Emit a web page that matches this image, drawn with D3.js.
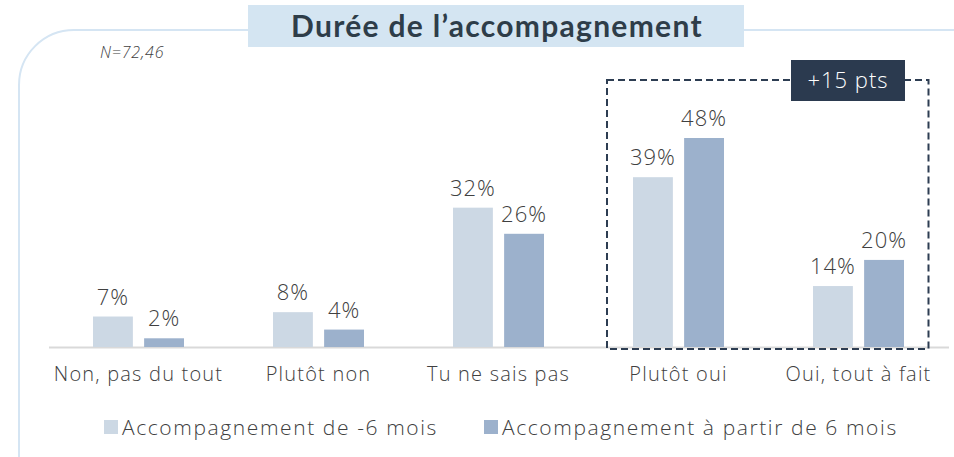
<!DOCTYPE html>
<html>
<head>
<meta charset="utf-8">
<script src="https://cdn.jsdelivr.net/npm/d3@7/dist/d3.min.js"></script>
<style>
  html, body { margin: 0; padding: 0; background: #fff; }
  svg { display: block; font-family: "Open Sans", Lato, sans-serif; font-weight: 300; }
</style>
</head>
<body>
<svg id="chart" width="954" height="457"></svg>
<script>
// Answer categories and shares (%) for each group
const categories = ["Non, pas du tout", "Plutôt non", "Tu ne sais pas", "Plutôt oui", "Oui, tout à fait"];
const seriesNames = ["Accompagnement de -6 mois", "Accompagnement à partir de 6 mois"];
const moinsSixMois = [7, 8, 32, 39, 14];
const plusSixMois = [2, 4, 26, 48, 20];
const seriesColors = ["#ccd8e4", "#9cb1cc"];
const titleText = "Durée de l’accompagnement";
const sampleText = "N=72,46";
const highlightText = "+15 pts";
const highlightCats = ["Plutôt oui", "Oui, tout à fait"];

const svg = d3.select("#chart");
const textColor = "#404040";

// Rounded frame
svg.append("rect")
  .attr("x", 19).attr("y", 30)
  .attr("width", 1000).attr("height", 500)
  .attr("rx", 55).attr("ry", 55)
  .attr("fill", "none")
  .attr("stroke", "#d5e5f3")
  .attr("stroke-width", 2);

// Title banner
svg.append("rect")
  .attr("x", 248).attr("y", 5)
  .attr("width", 496).attr("height", 42)
  .attr("fill", "#d4e5f2");
svg.append("text")
  .attr("x", 497).attr("y", 37)
  .attr("text-anchor", "middle")
  .attr("font-family", "Lato, sans-serif")
  .attr("font-size", 30).attr("font-weight", 700)
  .attr("letter-spacing", 1.3)
  .attr("fill", "#2e3d49")
  .text(titleText);

svg.append("text")
  .attr("x", 100).attr("y", 58)
  .attr("font-size", 16).attr("font-style", "italic")
  .attr("letter-spacing", 0.8)
  .attr("fill", textColor)
  .text(sampleText);

// Scales
const x0 = d3.scaleBand().domain(categories).range([48.5, 948.5]).paddingInner(0).paddingOuter(0);
const x1 = d3.scaleBand().domain(seriesNames).range([44.5, 135.5]).paddingInner(0.22).paddingOuter(0);
const y = d3.scaleLinear().domain([0, 48]).range([347, 138]);

const data = categories.map((c, i) => ({ cat: c, values: [moinsSixMois[i], plusSixMois[i]] }));

// Axis baseline
svg.append("g")
  .attr("transform", `translate(0,${y(0)})`)
  .call(d3.axisBottom(x0).tickSize(0).tickPadding(20))
  .call(g => g.select(".domain").attr("stroke", "#d9d9d9").attr("stroke-width", 2))
  .call(g => g.selectAll("text")
    .attr("font-size", 20).attr("fill", textColor)
    .attr("letter-spacing", 1.2)
    .attr("font-family", "'Open Sans', sans-serif").attr("font-weight", 300));

const groups = svg.append("g").selectAll("g")
  .data(data).join("g")
  .attr("transform", d => `translate(${x0(d.cat)},0)`);

groups.selectAll("rect")
  .data(d => d.values.map((v, j) => ({ name: seriesNames[j], v, j })))
  .join("rect")
  .attr("x", d => x1(d.name))
  .attr("y", d => y(d.v))
  .attr("width", x1.bandwidth())
  .attr("height", d => y(0) - y(d.v))
  .attr("fill", d => seriesColors[d.j]);

groups.selectAll("text.val")
  .data(d => d.values.map((v, j) => ({ name: seriesNames[j], v, j })))
  .join("text")
  .attr("class", "val")
  .attr("x", d => x1(d.name) + x1.bandwidth() / 2)
  .attr("y", d => y(d.v) - 12)
  .attr("text-anchor", "middle")
  .attr("font-size", 22)
  .attr("letter-spacing", 1)
  .attr("fill", textColor)
  .text(d => d.v + "%");

// Highlight box around the positive answers
const hx0 = x0(highlightCats[0]) + 18.5;
const hx1 = x0(highlightCats[1]) + x0.step() - 20;
svg.append("rect")
  .attr("x", hx0).attr("y", 80)
  .attr("width", hx1 - hx0).attr("height", y(0) + 2 - 80)
  .attr("fill", "none")
  .attr("stroke", "#2d3d52")
  .attr("stroke-width", 2)
  .attr("stroke-dasharray", "7,4");

svg.append("rect")
  .attr("x", 791).attr("y", 60)
  .attr("width", 114).attr("height", 41)
  .attr("fill", "#2b3a4f");
svg.append("text")
  .attr("x", 848).attr("y", 88)
  .attr("text-anchor", "middle")
  .attr("font-size", 22)
  .attr("letter-spacing", 1)
  .attr("fill", "#ffffff")
  .text(highlightText);

// Legend
const legendX = [104, 484];
const legend = svg.append("g").selectAll("g")
  .data(seriesNames).join("g")
  .attr("transform", (d, i) => `translate(${legendX[i]},420)`);
legend.append("rect")
  .attr("width", 14).attr("height", 14)
  .attr("fill", (d, i) => seriesColors[i]);
legend.append("text")
  .attr("x", 18).attr("y", 15)
  .attr("font-size", 21)
  .attr("letter-spacing", 1.6)
  .attr("fill", textColor)
  .text(d => d);
</script>
</body>
</html>
